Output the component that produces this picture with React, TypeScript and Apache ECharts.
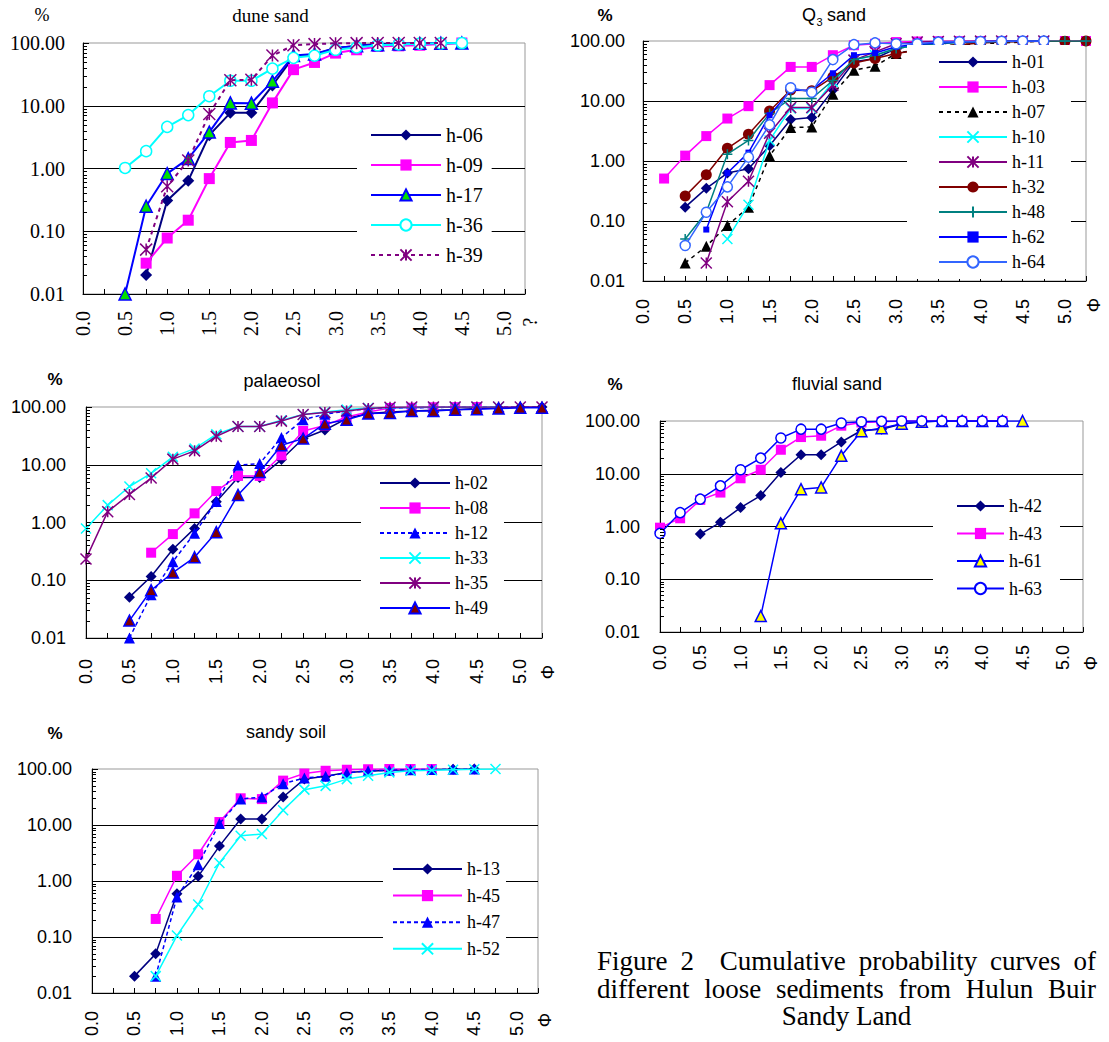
import React, { useEffect, useRef } from 'react';
import * as echarts from 'echarts';

const SERIF = '"Liberation Serif", "Times New Roman", serif';
const SANS = '"Liberation Sans", Arial, sans-serif';
const STEP = 0.25;

// ---------- tick labels ----------
const Y_MINOR = [0.02, 0.03, 0.04, 0.05, 0.06, 0.07, 0.08, 0.09, 0.2, 0.3, 0.4, 0.5, 0.6, 0.7, 0.8, 0.9, 2, 3, 4, 5, 6, 7, 8, 9, 20, 30, 40, 50, 60, 70, 80, 90];

// ---------- panel 1: dune sand ----------
const DUNE_NAMES = ['h-06', 'h-09', 'h-17', 'h-36', 'h-39'];
const DUNE_START = [0.75, 0.75, 0.5, 0.5, 0.75];
const DUNE_H06 = [0.02, 0.31, 0.64, 3.4, 7.7, 7.7, 21, 60, 65, 83, 90, 96, 97.5, 99, 99.5, 100];
const DUNE_H09 = [0.031, 0.078, 0.15, 0.69, 2.6, 2.8, 11.1, 37.6, 49, 69, 78, 88, 90, 92, 96, 100];
const DUNE_H17 = [0.01, 0.25, 0.83, 1.44, 3.8, 11.1, 11, 24.5, 63, 67, 83, 90, 94, 96, 98.8, 99.5, 100];
const DUNE_H36 = [1.02, 1.89, 4.6, 7.1, 14.2, 25, 25, 39, 58, 63, 78, 85, 92, 95, 97.5, 99, 100];
const DUNE_H39 = [0.051, 0.52, 1.34, 7.4, 25.5, 26, 63, 92, 96, 99, 99.5, 100, 100, 100, 100];

// ---------- panel 2: Q3 sand ----------
const Q3_NAMES = ['h-01', 'h-03', 'h-07', 'h-10', 'h-11', 'h-32', 'h-48', 'h-62', 'h-64'];
const Q3_START = [0.5, 0.25, 0.5, 1.0, 0.75, 0.5, 0.5, 0.75, 0.5];
const Q3_H01 = [0.17, 0.35, 0.63, 0.74, 1.79, 4.9, 5.3, 15.2, 45, 51, 75, 85, 93, 97, 98, 99, 99.5, 100];
const Q3_H03 = [0.51, 1.23, 2.6, 5.1, 8.2, 18.4, 37, 37, 58, 85, 90, 96, 98, 99, 99.5, 100, 100, 100, 100, 100, 100];
const Q3_H07 = [0.02, 0.038, 0.084, 0.17, 1.22, 3.6, 3.7, 13, 32.6, 38, 62, 72, 82, 87, 90, 93, 96, 100];
const Q3_H10 = [0.05, 0.187, 2.2, 7.5, 7.5, 21, 48, 58, 75, 85, 92, 95, 97, 98, 99, 100];
const Q3_H11 = [0.02, 0.21, 0.46, 2.9, 7.8, 7.8, 18.4, 48, 66, 90, 96, 98, 99, 99.5, 100, 100, 100];
const Q3_H32 = [0.26, 0.59, 1.63, 2.8, 6.8, 15.2, 14.8, 25, 43, 51, 62, 70, 80, 87, 93, 96, 98, 99, 99.5, 100];
const Q3_H48 = [0.05, 0.14, 1.3, 2.2, 6.2, 11, 11, 22, 49, 58, 75, 85, 90, 94, 96, 98, 99, 100, 100, 100];
const Q3_H62 = [0.072, 0.63, 1.38, 5.8, 15, 15.2, 29, 58, 63, 80, 88, 93, 96, 98, 99, 99.5, 100];
const Q3_H64 = [0.039, 0.14, 0.37, 1.16, 4.0, 16.6, 14, 49, 87, 93, 90, 90, 96, 97, 98, 99, 100, 100];

// ---------- panel 3: palaeosol ----------
const PAL_NAMES = ['h-02', 'h-08', 'h-12', 'h-33', 'h-35', 'h-49'];
const PAL_START = [0.5, 0.75, 0.5, 0, 0, 0.5];
const PAL_H02 = [0.051, 0.116, 0.344, 0.79, 2.29, 6.0, 6.0, 12.3, 28.4, 40, 63, 77, 82, 85, 88, 90, 94, 96, 99, 100];
const PAL_H08 = [0.3, 0.63, 1.44, 3.5, 6.4, 6.4, 14.6, 38.5, 48, 67, 82, 96, 97, 99, 99.5, 100];
const PAL_H12 = [0.01, 0.056, 0.21, 0.65, 2.3, 9.8, 10.5, 29.6, 60, 75, 85, 94, 96, 97, 98, 99, 99.5, 100, 100, 100];
const PAL_H33 = [0.79, 2.0, 4.2, 7.1, 13.7, 19, 33.7, 46, 46, 59, 74, 82, 90, 96, 97, 98, 99, 99.5, 100, 100];
const PAL_H35 = [0.234, 1.54, 3.06, 5.9, 12.5, 17.4, 31, 46, 46, 57, 74, 80, 85, 94, 99, 100, 100, 100, 100, 100, 100, 100];
const PAL_H49 = [0.02, 0.067, 0.136, 0.25, 0.68, 3.0, 7.5, 21.8, 28.4, 51.5, 60, 77, 79, 85, 85, 90, 91, 94, 97, 97];

// ---------- panel 4: fluvial sand ----------
const FLU_NAMES = ['h-42', 'h-43', 'h-61', 'h-63'];
const FLU_START = [0.5, 0, 1.25, 0];
const FLU_H42 = [0.72, 1.2, 2.28, 3.86, 10.6, 22.9, 22.9, 40, 66, 70, 88, 97, 100, 100, 100, 100];
const FLU_H43 = [0.95, 1.43, 3.2, 4.4, 8.2, 11.9, 28.5, 49.6, 52.6, 81.5, 94, 97, 100, 100, 100, 100, 100, 100];
const FLU_H61 = [0.02, 1.15, 5.1, 5.5, 21.9, 64, 73, 89, 97, 100, 100, 100, 100, 100];
const FLU_H63 = [0.74, 1.83, 3.3, 5.9, 11.9, 19.8, 47.5, 70, 70, 91.6, 97, 98.5, 100, 100, 100, 100, 100, 100];

// ---------- panel 5: sandy soil ----------
const SOIL_NAMES = ['h-13', 'h-45', 'h-47', 'h-52'];
const SOIL_START = [0.5, 0.75, 0.75, 0.75];
const SOIL_H13 = [0.02, 0.05, 0.59, 1.21, 4.2, 12.8, 12.8, 31.6, 66, 74, 87, 91, 95, 97, 98, 99, 100];
const SOIL_H45 = [0.21, 1.24, 3.0, 11.3, 30, 29, 62, 83, 93, 97, 99, 100, 100, 100];
const SOIL_H47 = [0.02, 0.52, 1.96, 10.6, 29, 31.6, 54.7, 69, 74, 85, 93, 95, 97, 98, 99, 100];
const SOIL_H52 = [0.02, 0.106, 0.38, 2.1, 6.45, 6.9, 18.3, 42.8, 50, 66, 76, 87, 93, 95, 97, 99, 100];

const TITLES = ['dune sand', 'Q3 sand', 'palaeosol', 'fluvial sand', 'sandy soil'];
const CAPTION_LINES = ['Figure 2  Cumulative probability curves of', 'different loose sediments from Hulun Buir', 'Sandy Land'];

// ---------- styles ----------
const ASTER = 'path://M0,-7L0,7M-7,-7L7,7M-7,7L7,-7';
const CROSS = 'path://M-5,-5L5,5M-5,5L5,-5';
const PLUS = 'path://M-5,0L5,0M0,-5L0,5';

type Sty = { c: string; sym: string; fill: string; border?: string; bw?: number; size: number; dash?: number[]; w?: number };

const NAVY = '#000080', MAG = '#ff00ff', BLUE = '#0000ff', CYAN = '#00ffff', PURP = '#800080';

const STYLES: Record<string, Sty> = {
  'h-06': { c: NAVY, sym: 'diamond', fill: NAVY, size: 12, w: 2 },
  'h-09': { c: MAG, sym: 'rect', fill: MAG, size: 11, w: 2 },
  'h-17': { c: BLUE, sym: 'triangle', fill: '#00e000', border: BLUE, bw: 1.5, size: 12, w: 2 },
  'h-36': { c: CYAN, sym: 'circle', fill: '#ffffff', border: CYAN, bw: 1.5, size: 11, w: 2 },
  'h-39': { c: PURP, sym: ASTER, fill: PURP, border: PURP, bw: 1.5, size: 12, dash: [4, 4], w: 2 },

  'h-01': { c: NAVY, sym: 'diamond', fill: NAVY, size: 11 },
  'h-03': { c: MAG, sym: 'rect', fill: MAG, size: 10 },
  'h-07': { c: '#000000', sym: 'triangle', fill: '#000000', size: 11, dash: [4, 4] },
  'h-10': { c: CYAN, sym: CROSS, fill: CYAN, border: CYAN, bw: 1.5, size: 10 },
  'h-11': { c: PURP, sym: ASTER, fill: PURP, border: PURP, bw: 1.5, size: 11 },
  'h-32': { c: '#800000', sym: 'circle', fill: '#800000', size: 11 },
  'h-48': { c: '#008080', sym: PLUS, fill: '#008080', border: '#008080', bw: 1.5, size: 10 },
  'h-62': { c: BLUE, sym: 'rect', fill: BLUE, size: 6 },
  'h-64': { c: '#3366ff', sym: 'circle', fill: '#ffffff', border: '#3366ff', bw: 1.5, size: 10 },

  'h-02': { c: NAVY, sym: 'diamond', fill: NAVY, size: 11 },
  'h-08': { c: MAG, sym: 'rect', fill: MAG, size: 10 },
  'h-12': { c: BLUE, sym: 'triangle', fill: BLUE, size: 11, dash: [4, 3] },
  'h-33': { c: CYAN, sym: CROSS, fill: CYAN, border: CYAN, bw: 1.5, size: 10 },
  'h-35': { c: PURP, sym: ASTER, fill: PURP, border: PURP, bw: 1.5, size: 11 },
  'h-49': { c: BLUE, sym: 'triangle', fill: '#800000', border: BLUE, bw: 1.5, size: 11 },

  'h-42': { c: NAVY, sym: 'diamond', fill: NAVY, size: 11 },
  'h-43': { c: MAG, sym: 'rect', fill: MAG, size: 10 },
  'h-61': { c: BLUE, sym: 'triangle', fill: '#ffff00', border: BLUE, bw: 1.5, size: 11 },
  'h-63': { c: BLUE, sym: 'circle', fill: '#ffffff', border: BLUE, bw: 1.5, size: 10 },

  'h-13': { c: NAVY, sym: 'diamond', fill: NAVY, size: 11 },
  'h-45': { c: MAG, sym: 'rect', fill: MAG, size: 10 },
  'h-47': { c: BLUE, sym: 'triangle', fill: BLUE, size: 11, dash: [4, 3] },
  'h-52': { c: CYAN, sym: CROSS, fill: CYAN, border: CYAN, bw: 1.5, size: 10 },
};

type Panel = {
  names: string[]; starts: number[]; values: number[][];
  grid: { left: number; top: number; width: number; height: number };
  font: string; tickSize: number; yMargin: number; xMargin: number;
  legend: { left: number; top: number; itemWidth: number; itemGap: number; padding: number[]; font: string; size: number };
};

const PANELS: Panel[] = [
  {
    names: DUNE_NAMES, starts: DUNE_START, values: [DUNE_H06, DUNE_H09, DUNE_H17, DUNE_H36, DUNE_H39],
    grid: { left: 83, top: 43, width: 442, height: 251 }, font: SERIF, tickSize: 20, yMargin: 18, xMargin: 17,
    legend: { left: 357, top: 115, itemWidth: 70, itemGap: 10, padding: [10, 9, 10, 13], font: SERIF, size: 20 },
  },
  {
    names: Q3_NAMES, starts: Q3_START, values: [Q3_H01, Q3_H03, Q3_H07, Q3_H10, Q3_H11, Q3_H32, Q3_H48, Q3_H62, Q3_H64],
    grid: { left: 643, top: 41, width: 443, height: 240 }, font: SANS, tickSize: 18, yMargin: 18, xMargin: 18,
    legend: { left: 907, top: 45, itemWidth: 68, itemGap: 7, padding: [8, 26, 8, 31], font: SERIF, size: 18 },
  },
  {
    names: PAL_NAMES, starts: PAL_START, values: [PAL_H02, PAL_H08, PAL_H12, PAL_H33, PAL_H35, PAL_H49],
    grid: { left: 86, top: 407, width: 456, height: 231 }, font: SANS, tickSize: 18, yMargin: 20, xMargin: 21,
    legend: { left: 361, top: 467, itemWidth: 70, itemGap: 7, padding: [7, 16, 8, 18], font: SERIF, size: 18 },
  },
  {
    names: FLU_NAMES, starts: FLU_START, values: [FLU_H42, FLU_H43, FLU_H61, FLU_H63],
    grid: { left: 660, top: 421, width: 423, height: 211 }, font: SANS, tickSize: 18, yMargin: 20, xMargin: 13,
    legend: { left: 933, top: 489, itemWidth: 47, itemGap: 9.5, padding: [8, 18, 8, 23], font: SERIF, size: 18 },
  },
  {
    names: SOIL_NAMES, starts: SOIL_START, values: [SOIL_H13, SOIL_H45, SOIL_H47, SOIL_H52],
    grid: { left: 92, top: 769, width: 446, height: 224 }, font: SANS, tickSize: 18, yMargin: 20, xMargin: 18,
    legend: { left: 383, top: 852, itemWidth: 69, itemGap: 8.6, padding: [8, 6, 8, 9], font: SERIF, size: 18 },
  },
];

// title / unit label positions
const TITLE_POS = [[270.6, 15], [0, 15], [282, 381], [837, 384], [286, 732]];
const PCT_POS = [[42, 15], [605, 15], [55, 379], [615, 384], [55, 733]];
const PHI_POS = [[530, 322], [1094, 305], [548, 672], [1091, 663], [545, 1020]];

const CAP_LEFT = 597, CAP_RIGHT = 1096, CAP_Y = [961, 988.5, 1016], CAP_SIZE = 27;

function pts(start: number, vals: number[]) {
  return vals.map((v, i) => [start + STEP * i, v]);
}

function txt(x: number, y: number, text: string, family: string, size: number, extra: any = {}) {
  return {
    type: 'text', x, y, silent: true, rotation: extra.rotation || 0,
    style: {
      text, fontFamily: family, fontSize: size, fontWeight: extra.weight || 'normal', fill: '#000',
      textAlign: extra.align || 'center', textVerticalAlign: 'middle', verticalAlign: 'middle',
    },
  };
}

function buildOption() {
  const grids: any[] = [], xAxes: any[] = [], yAxes: any[] = [], series: any[] = [], legends: any[] = [], graphics: any[] = [];
  PANELS.forEach((p, i) => {
    grids.push({ ...p.grid, show: true, borderColor: '#999999', borderWidth: 1, backgroundColor: 'transparent' });
    xAxes.push({
      type: 'value', gridIndex: i, min: 0, max: 5.25, interval: STEP,
      axisLine: { show: true, onZero: false, lineStyle: { color: '#000', width: 1 } },
      axisTick: { show: true, inside: true, length: 5, lineStyle: { color: '#000', width: 1 } },
      axisLabel: {
        rotate: 90, margin: p.xMargin, fontFamily: p.font, fontSize: p.tickSize, color: '#000',
        showMinLabel: true, showMaxLabel: true,
        formatter: (v: number) => (Math.abs(v * 2 - Math.round(v * 2)) < 1e-6 ? v.toFixed(1) : ''),
      },
      splitLine: { show: false },
    });
    yAxes.push({
      type: 'log', logBase: 10, gridIndex: i, min: 0.01, max: 100,
      axisLine: { show: true, lineStyle: { color: '#000', width: 1 } },
      axisTick: { show: true, inside: true, length: 6, lineStyle: { color: '#000', width: 1 } },
      axisLabel: { margin: p.yMargin, fontFamily: p.font, fontSize: p.tickSize, color: '#000', formatter: (v: number) => Number(v).toFixed(2) },
      splitLine: { show: true, showMinLine: false, showMaxLine: false, lineStyle: { color: '#000', width: 1 } },
    });
    // minor log ticks
    series.push({
      type: 'custom', xAxisIndex: i, yAxisIndex: i, silent: true, clip: false, z: 3,
      data: Y_MINOR.map((v) => [0, v]),
      encode: { x: 0, y: 1 },
      renderItem: (_params: any, api: any) => {
        const c = api.coord([api.value(0), api.value(1)]);
        const y = Math.round(c[1]) + 0.5;
        return { type: 'line', shape: { x1: c[0], y1: y, x2: c[0] + 4, y2: y }, style: { stroke: '#000', lineWidth: 1 } };
      },
    });
    p.names.forEach((name, k) => {
      const s = STYLES[name];
      series.push({
        type: 'line', name, xAxisIndex: i, yAxisIndex: i,
        data: pts(p.starts[k], p.values[k]),
        symbol: s.sym, symbolSize: s.size, showAllSymbol: true,
        lineStyle: { color: s.c, width: s.w || 1.5, type: s.dash || 'solid' },
        itemStyle: { color: s.fill, borderColor: s.border || s.fill, borderWidth: s.bw != null ? s.bw : 0 },
        emphasis: { disabled: true },
        z: 2 + k * 0.01,
      });
    });
    legends.push({
      orient: 'vertical', left: p.legend.left, top: p.legend.top, itemWidth: p.legend.itemWidth, itemHeight: 14,
      itemGap: p.legend.itemGap, padding: p.legend.padding, backgroundColor: '#ffffff', borderWidth: 0,
      selectedMode: false, data: p.names,
      textStyle: { fontFamily: p.legend.font, fontSize: p.legend.size, color: '#000' },
    });
  });

  // titles
  graphics.push(txt(TITLE_POS[0][0], TITLE_POS[0][1], TITLES[0], SERIF, 19));
  graphics.push(txt(802, 15, 'Q', SANS, 18, { align: 'left' }));
  graphics.push(txt(816.5, 22, '3', SANS, 11, { align: 'left' }));
  graphics.push(txt(827, 15, TITLES[1].slice(3), SANS, 18, { align: 'left' }));
  for (let i = 2; i < 5; i++) graphics.push(txt(TITLE_POS[i][0], TITLE_POS[i][1], TITLES[i], SANS, 18));
  // % labels
  graphics.push(txt(PCT_POS[0][0], PCT_POS[0][1], '%', SERIF, 18));
  for (let i = 1; i < 5; i++) graphics.push(txt(PCT_POS[i][0], PCT_POS[i][1], '%', SANS, 17, { weight: 'bold' }));
  // phi labels
  graphics.push(txt(PHI_POS[0][0], PHI_POS[0][1], '?', SERIF, 20, { rotation: Math.PI / 2 }));
  for (let i = 1; i < 5; i++) graphics.push(txt(PHI_POS[i][0], PHI_POS[i][1], 'Φ', SANS, 18, { rotation: Math.PI / 2 }));

  // caption, justified
  const canvas = document.createElement('canvas');
  const ctx = canvas.getContext('2d') as CanvasRenderingContext2D;
  ctx.font = `${CAP_SIZE}px ${SERIF}`;
  CAPTION_LINES.forEach((line, li) => {
    const y = CAP_Y[li];
    if (li === CAPTION_LINES.length - 1) {
      graphics.push(txt((CAP_LEFT + CAP_RIGHT) / 2, y, line, SERIF, CAP_SIZE));
      return;
    }
    const tokens = line.split(' ');
    const natural = ctx.measureText(line).width;
    const extra = (CAP_RIGHT - CAP_LEFT - natural) / (tokens.length - 1);
    tokens.forEach((t, k) => {
      if (!t) return;
      const prefix = k > 0 ? tokens.slice(0, k).join(' ') + ' ' : '';
      const x = CAP_LEFT + ctx.measureText(prefix).width + extra * k;
      graphics.push(txt(x, y, t, SERIF, CAP_SIZE, { align: 'left' }));
    });
  });

  return {
    animation: false,
    backgroundColor: '#ffffff',
    grid: grids, xAxis: xAxes, yAxis: yAxes, series, legend: legends, graphic: graphics,
  };
}

export default function App() {
  const ref = useRef<HTMLDivElement>(null);
  useEffect(() => {
    document.body.style.margin = '0';
    if (!ref.current) return;
    const chart = echarts.init(ref.current, undefined, { renderer: 'svg' });
    chart.setOption(buildOption() as any);
    return () => chart.dispose();
  }, []);
  return <div ref={ref} style={{ width: 1109, height: 1042, position: 'absolute', left: 0, top: 0 }} />;
}
